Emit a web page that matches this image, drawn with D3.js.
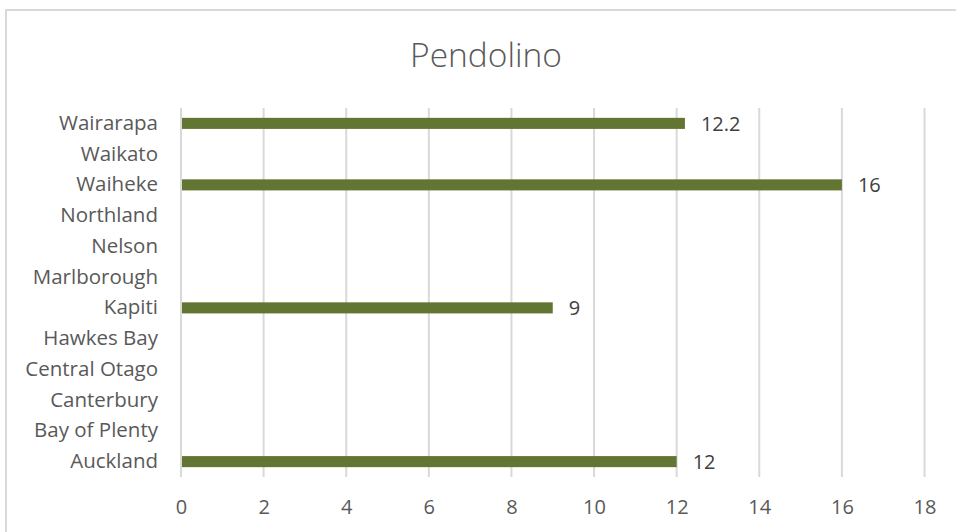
<!DOCTYPE html>
<html>
<head>
<meta charset="utf-8">
<script src="https://cdn.jsdelivr.net/npm/d3@7"></script>
<style>
  html, body { margin: 0; padding: 0; background: #fff; }
  svg { display: block; }
  text { font-family: "Open Sans", sans-serif; }
</style>
</head>
<body>
<svg id="chart" width="956" height="532"></svg>
<script>
// Regions, listed bottom to top as on the axis
const regions = ["Auckland", "Bay of Plenty", "Canterbury", "Central Otago", "Hawkes Bay",
  "Kapiti", "Marlborough", "Nelson", "Northland", "Waiheke", "Waikato", "Wairarapa"];
const values = [12, null, null, null, null, 9, null, null, null, 16, null, 12.2];
const xTicks = [0, 2, 4, 6, 8, 10, 12, 14, 16, 18];
const title = "Pendolino";

const svg = d3.select("#chart");
const W = 956, H = 532;
const FONT = "'Open Sans', sans-serif";

// outer frame
svg.append("rect")
  .attr("x", 6).attr("y", 10).attr("width", W + 10).attr("height", H + 10)
  .attr("fill", "none").attr("stroke", "#d9d9d9").attr("stroke-width", 2);

const plot = { left: 181, right: 924.5, top: 108, bottom: 477 };

const x = d3.scaleLinear().domain([0, 18]).range([plot.left, plot.right]);
const y = d3.scaleBand().domain(regions.slice().reverse())
  .range([plot.top, plot.bottom]).paddingInner(0.64).paddingOuter(0.32);

// gridlines
svg.append("g").selectAll("line").data(xTicks).join("line")
  .attr("x1", d => x(d)).attr("x2", d => x(d))
  .attr("y1", plot.top).attr("y2", plot.bottom)
  .attr("stroke", "#d9d9d9").attr("stroke-width", 2);

// x axis labels
const xAxis = d3.axisBottom(x).tickValues(xTicks).tickSize(0).tickPadding(0);
const gx = svg.append("g").attr("transform", `translate(0,${plot.bottom + 23})`).call(xAxis);
gx.select(".domain").remove();
gx.selectAll("text").attr("fill", "#595959").attr("font-size", 20)
  .attr("font-family", FONT);

// y axis labels
const yAxis = d3.axisLeft(y).tickSize(0).tickPadding(23);
const gy = svg.append("g").attr("transform", `translate(${plot.left},0)`).call(yAxis);
gy.select(".domain").remove();
gy.selectAll("text").attr("fill", "#595959").attr("font-size", 20.5)
  .attr("font-family", FONT);

const data = regions.map((r, i) => ({ r, v: values[i] })).filter(d => d.v != null);

// bars
svg.append("g").selectAll("rect").data(data).join("rect")
  .attr("x", x(0) + 1)
  .attr("y", d => y(d.r))
  .attr("width", d => x(d.v) - x(0) - 1)
  .attr("height", y.bandwidth())
  .attr("fill", "#637532");

// value labels
svg.append("g").selectAll("text").data(data).join("text")
  .attr("x", d => x(d.v) + 16)
  .attr("y", d => y(d.r) + y.bandwidth() / 2)
  .attr("dy", "0.36em")
  .attr("fill", "#404040").attr("font-size", 20)
  .text(d => d.v);

// title
svg.append("text")
  .attr("x", 486).attr("y", 67)
  .attr("text-anchor", "middle")
  .attr("fill", "#595959").attr("font-size", 33.5).attr("font-weight", 300)
  .text(title);
</script>
</body>
</html>
